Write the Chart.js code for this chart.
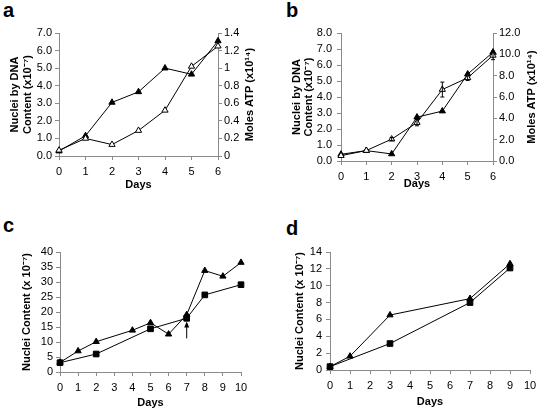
<!DOCTYPE html>
<html>
<head>
<meta charset="utf-8">
<script src="https://cdn.jsdelivr.net/npm/chart.js@4.4.1/dist/chart.umd.min.js"></script>
<style>
    body { margin: 0; background: #fff; width: 543px; height: 411px; position: relative; overflow: hidden; font-family: "Liberation Sans", Arial, sans-serif; }
    canvas { position: absolute; display: block; }
    .letter { position: absolute; font-weight: bold; font-size: 20px; line-height: 20px; color: #000; }
</style>
</head>
<body>
<div class="letter" style="left:3px; top:0px;">a</div>
<div class="letter" style="left:286px; top:0px;">b</div>
<div class="letter" style="left:3px; top:215px;">c</div>
<div class="letter" style="left:286px; top:218px;">d</div>

<canvas id="chartA" width="272" height="200" style="left:0; top:0;"></canvas>
<canvas id="chartB" width="271" height="200" style="left:272px; top:0;"></canvas>
<canvas id="chartC" width="272" height="211" style="left:0; top:200px;"></canvas>
<canvas id="chartD" width="271" height="211" style="left:272px; top:200px;"></canvas>

<script>
// Panel a
const daysA = [0, 1, 2, 3, 4, 5, 6];
const nucleiA = [0.28, 1.15, 3.05, 3.65, 5.0, 4.65, 6.55];
const atpA = [0.065, 0.2, 0.13, 0.29, 0.52, 1.02, 1.25];

// Panel b
const daysB = [0, 1, 2, 3, 4, 5, 6];
const nucleiB = [0.42, 0.65, 0.44, 2.74, 3.12, 5.43, 6.8];
const atpB = [0.5, 0.98, 2.05, 3.6, 6.7, 7.8, 9.9];
const atpBErr = [0, 0, 0.15, 0.3, 0.7, 0.25, 0.4];

// Panel c
const daysCTri = [0, 1, 2, 4, 5, 6, 7, 8, 9, 10];
const triC = [3.2, 7.0, 10.1, 13.9, 16.4, 12.6, 19.1, 33.8, 31.9, 36.5];
const daysCSq = [0, 2, 5, 7, 8, 10];
const sqC = [3.1, 6.0, 14.4, 17.9, 25.7, 29.1];
const arrowC = { day: 7, from: 11.2, to: 16.8 };

// Panel d
const daysDTri = [0, 1, 3, 7, 9];
const triD = [0.4, 1.63, 6.52, 8.47, 12.6];
const daysDSq = [0, 3, 7, 9];
const sqD = [0.4, 3.14, 8.0, 12.1];

const FONT = '"Liberation Sans", Arial, sans-serif';
const AXIS_GREY = "#8a8a8a";

const toPoints = (xs, ys) => xs.map((x, i) => ({ x: x, y: ys[i] }));

function series(xs, ys, style, axis) {
    return {
        data: toPoints(xs, ys),
        yAxisID: axis || "y",
        borderColor: "#000",
        borderWidth: 1,
        pointStyle: style === "square" ? "rect" : "triangle",
        pointRadius: style === "square" ? 4 : 3.6,
        pointBackgroundColor: style === "open" ? "#fff" : "#000",
        pointBorderColor: "#000",
        pointBorderWidth: 1,
        tension: 0,
        clip: false
    };
}

// axis titles drawn by hand so the right one reads bottom to top like the left
const titlesPlugin = {
    id: "titles",
    afterDraw(chart, args, o) {
        const ctx = chart.ctx;
        const a = chart.chartArea;
        const midY = (a.top + a.bottom) / 2;
        ctx.save();
        ctx.fillStyle = "#000";
        ctx.font = "bold 11px " + FONT;
        ctx.textAlign = "center";
        ctx.textBaseline = "middle";
        ctx.fillText(o.bottom, (a.left + a.right) / 2, o.bottomY);
        const vertical = (text, x) => {
            ctx.save();
            ctx.translate(x, midY);
            ctx.rotate(-Math.PI / 2);
            ctx.fillText(text, 0, 0);
            ctx.restore();
        };
        (o.left || []).forEach((t, i) => vertical(t, o.leftX[i]));
        if (o.right) vertical(o.right, o.rightX);
        ctx.restore();
    }
};

// error bars for datasets that carry an `errors` array
const errorBarsPlugin = {
    id: "errorBars",
    afterDatasetsDraw(chart) {
        const ctx = chart.ctx;
        ctx.save();
        ctx.strokeStyle = "#000";
        ctx.lineWidth = 1;
        chart.data.datasets.forEach(ds => {
            if (!ds.errors) return;
            const ys = chart.scales[ds.yAxisID];
            const xs = chart.scales.x;
            ds.data.forEach((p, i) => {
                const e = ds.errors[i];
                if (!e) return;
                const x = xs.getPixelForValue(p.x);
                const top = ys.getPixelForValue(p.y + e);
                const bot = ys.getPixelForValue(p.y - e);
                ctx.beginPath();
                ctx.moveTo(x, top); ctx.lineTo(x, bot);
                ctx.moveTo(x - 2, top); ctx.lineTo(x + 2, top);
                ctx.moveTo(x - 2, bot); ctx.lineTo(x + 2, bot);
                ctx.stroke();
            });
        });
        ctx.restore();
    }
};

const arrowPlugin = {
    id: "arrow",
    afterDatasetsDraw(chart, args, o) {
        if (!o || o.day === undefined) return;
        const ctx = chart.ctx;
        const x = chart.scales.x.getPixelForValue(o.day);
        const y1 = chart.scales.y.getPixelForValue(o.from);
        const y2 = chart.scales.y.getPixelForValue(o.to);
        ctx.save();
        ctx.strokeStyle = "#000";
        ctx.fillStyle = "#000";
        ctx.lineWidth = 1;
        ctx.beginPath();
        ctx.moveTo(x, y1); ctx.lineTo(x, y2 + 4);
        ctx.stroke();
        ctx.beginPath();
        ctx.moveTo(x, y2); ctx.lineTo(x - 2.5, y2 + 6); ctx.lineTo(x + 2.5, y2 + 6);
        ctx.closePath();
        ctx.fill();
        ctx.restore();
    }
};

function tickStyle(pad, step, format) {
    const t = { color: "#000", font: { family: FONT, size: 11 }, padding: pad, stepSize: step,
                autoSkip: false, maxRotation: 0 };
    if (format) t.callback = format;
    return t;
}

function axisStyle(extra) {
    return Object.assign({
        type: "linear",
        grid: { drawOnChartArea: false, drawTicks: true, tickLength: 4, color: AXIS_GREY },
        border: { color: AXIS_GREY, width: 1 }
    }, extra);
}

function makePanel(id, p) {
    const scales = {
        x: axisStyle({
            min: 0, max: p.xMax,
            afterFit: s => { s.height = p.xHeight; },
            ticks: tickStyle(5, 1)
        }),
        y: axisStyle({
            position: "left", min: 0, max: p.yMax,
            afterFit: s => { s.width = p.yWidth; },
            ticks: tickStyle(p.yPad, p.yStep, p.yFormat)
        })
    };
    if (p.y2) {
        scales.y2 = axisStyle({
            position: "right", min: 0, max: p.y2.max,
            afterFit: s => { s.width = p.y2.width; },
            ticks: tickStyle(2, p.y2.step, p.y2.format)
        });
    }
    new Chart(document.getElementById(id), {
        type: "line",
        data: { datasets: p.datasets },
        options: {
            responsive: false,
            animation: false,
            layout: { padding: { left: 0, top: p.top, right: p.padRight, bottom: 0 } },
            plugins: {
                legend: { display: false },
                tooltip: { enabled: false },
                titles: p.titles,
                arrow: p.arrow || {}
            },
            scales: scales
        },
        plugins: [titlesPlugin, errorBarsPlugin, arrowPlugin]
    });
}

const oneDecimal = v => v.toFixed(1);
const plain = v => String(v);

makePanel("chartA", {
    datasets: [
        series(daysA, atpA, "open", "y2"),
        series(daysA, nucleiA, "filled")
    ],
    xMax: 6, xHeight: 44, yMax: 7, yStep: 1, yWidth: 59, yPad: 3, yFormat: oneDecimal,
    y2: { max: 1.4, step: 0.2, width: 54, format: v => String(Math.round(v * 10) / 10) },
    top: 33, padRight: 0,
    titles: {
        bottom: "Days", bottomY: 185,
        left: ["Nuclei by DNA", "Content (x10\u207B\u2077)"], leftX: [15, 28],
        right: "Moles ATP (x10\u00B9\u2074)", rightX: 250
    }
});

const dsB = series(daysB, atpB, "open", "y2");
dsB.errors = atpBErr;
makePanel("chartB", {
    datasets: [
        dsB,
        series(daysB, nucleiB, "filled")
    ],
    xMax: 6, xHeight: 39, yMax: 8, yStep: 1, yWidth: 69, yPad: 5, yFormat: oneDecimal,
    y2: { max: 12, step: 2, width: 50, format: oneDecimal },
    top: 33, padRight: 0,
    titles: {
        bottom: "Days", bottomY: 184,
        left: ["Nuclei by DNA", "Content (x10\u207B\u2077)"], leftX: [25, 37],
        right: "Moles ATP (x10\u00B9\u2074)", rightX: 260
    }
});

makePanel("chartC", {
    datasets: [
        series(daysCSq, sqC, "square"),
        series(daysCTri, triC, "filled")
    ],
    xMax: 10, xHeight: 39, yMax: 40, yStep: 5, yWidth: 60, yPad: 3, yFormat: plain,
    top: 52, padRight: 31,
    arrow: arrowC,
    titles: {
        bottom: "Days", bottomY: 203,
        left: ["Nuclei Content (x 10\u207B\u2077)"], leftX: [27]
    }
});

makePanel("chartD", {
    datasets: [
        series(daysDSq, sqD, "square"),
        series(daysDTri, triD, "filled")
    ],
    xMax: 10, xHeight: 41, yMax: 14, yStep: 2, yWidth: 58, yPad: 4, yFormat: plain,
    top: 52, padRight: 13,
    titles: {
        bottom: "Days", bottomY: 202,
        left: ["Nuclei Content (x 10\u207B\u2077)"], leftX: [28]
    }
});
</script>
</body>
</html>
